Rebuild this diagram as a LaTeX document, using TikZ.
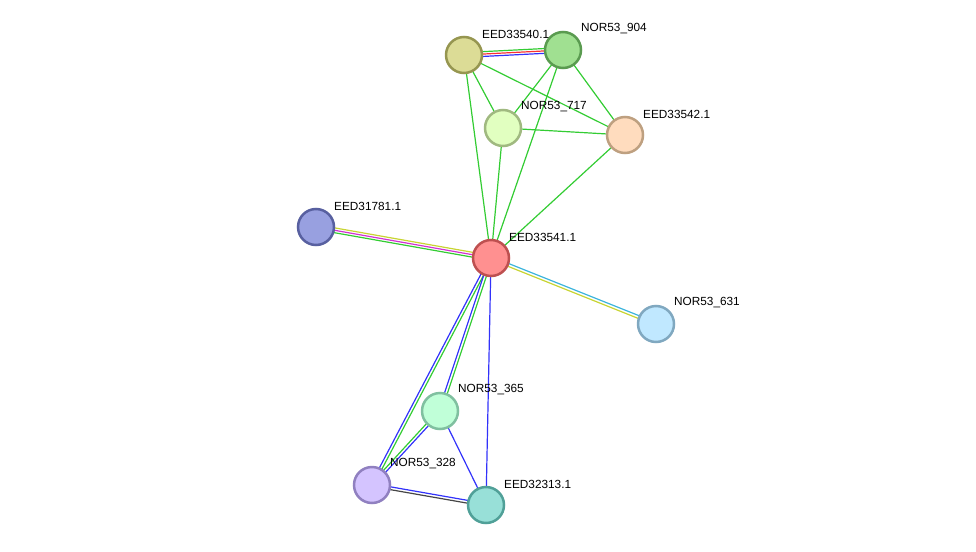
\documentclass[tikz,border=0pt]{standalone}
\usepackage{fontspec}
\setmainfont{Liberation Sans}
\usetikzlibrary{calc, backgrounds}
\definecolor{stgreen}{RGB}{51, 204, 51}
\definecolor{stred}{RGB}{250, 50, 50}
\definecolor{stblue}{RGB}{50, 50, 250}
\definecolor{styellow}{RGB}{200, 212, 50}
\definecolor{stmagenta}{RGB}{210, 50, 210}
\definecolor{stcyan}{RGB}{60, 180, 220}
\definecolor{stgray}{RGB}{70, 70, 70}

\begin{document}
\begin{tikzpicture}[x=1pt, y=-1pt,
    prot/.style={circle, line width=2.5pt, minimum size=36pt, inner sep=0pt},
    lbl/.style={anchor=west, inner sep=0pt, font=\fontsize{11.8}{13}\selectfont},
    edge/.style={line width=1.2pt}]
  \useasboundingbox (0,0) rectangle (976,551);
  % proteins
  \node[prot, fill={rgb,255:red,220;green,220;blue,150}, draw={rgb,255:red,150;green,150;blue,80}]   (eed33540) at (464,55)  {};
  \node[prot, fill={rgb,255:red,160;green,224;blue,145}, draw={rgb,255:red,90;green,155;blue,80}]    (nor904)   at (563,50)  {};
  \node[prot, fill={rgb,255:red,225;green,255;blue,192}, draw={rgb,255:red,160;green,185;blue,128}]  (nor717)   at (503,128) {};
  \node[prot, fill={rgb,255:red,255;green,220;blue,190}, draw={rgb,255:red,190;green,160;blue,128}]  (eed33542) at (625,135) {};
  \node[prot, fill={rgb,255:red,152;green,160;blue,224}, draw={rgb,255:red,88;green,96;blue,160}]    (eed31781) at (316,227) {};
  \node[prot, fill={rgb,255:red,255;green,144;blue,144}, draw={rgb,255:red,190;green,80;blue,80}]    (eed33541) at (491,258) {};
  \node[prot, fill={rgb,255:red,192;green,232;blue,255}, draw={rgb,255:red,128;green,168;blue,192}]  (nor631)   at (656,324) {};
  \node[prot, fill={rgb,255:red,192;green,255;blue,216}, draw={rgb,255:red,128;green,192;blue,160}]  (nor365)   at (440,411) {};
  \node[prot, fill={rgb,255:red,212;green,196;blue,255}, draw={rgb,255:red,144;green,128;blue,192}]  (nor328)   at (372,485) {};
  \node[prot, fill={rgb,255:red,152;green,224;blue,216}, draw={rgb,255:red,80;green,160;blue,152}]   (eed32313) at (486,505) {};
  % labels
  \foreach \p/\t in {eed33540/EED33540.1, nor904/NOR53\_904, nor717/NOR53\_717,
      eed33542/EED33542.1, eed31781/EED31781.1, eed33541/EED33541.1,
      nor631/NOR53\_631, nor365/NOR53\_365, nor328/NOR53\_328, eed32313/EED32313.1}
    \node[lbl] (t-\p) at ($(\p)+(18,-21)$) {\t};
  % links (offset in pt, one line per evidence channel)
  \begin{scope}[on background layer]
  \foreach \a/\b/\off/\col in {
      eed33540/nor904/2.4/stgreen, eed33540/nor904/0/stred, eed33540/nor904/-2.4/stblue,
      eed33540/nor717/0/stgreen, eed33540/eed33542/0/stgreen, eed33540/eed33541/0/stgreen,
      nor904/nor717/0/stgreen, nor904/eed33541/0/stgreen, nor904/eed33542/0/stgreen,
      nor717/eed33542/0/stgreen, nor717/eed33541/0/stgreen, eed33542/eed33541/0/stgreen,
      eed31781/eed33541/2.4/styellow, eed31781/eed33541/0/stmagenta, eed31781/eed33541/-2.4/stgreen,
      eed33541/nor631/1.4/stcyan, eed33541/nor631/-1.4/styellow,
      eed33541/nor328/-1.4/stblue, eed33541/nor328/1.4/stgreen,
      eed33541/nor365/-1.4/stblue, eed33541/nor365/1.4/stgreen,
      nor365/nor328/-1.4/stgreen, nor365/nor328/1.4/stblue,
      nor328/eed32313/1.4/stblue, nor328/eed32313/-1.4/stgray,
      nor365/eed32313/0/stblue, eed33541/eed32313/0/stblue}
    \draw[edge, \col] ($(\a)!\off pt!90:(\b)$) -- ($(\b)!\off pt!-90:(\a)$);
  \end{scope}
\end{tikzpicture}
\end{document}
